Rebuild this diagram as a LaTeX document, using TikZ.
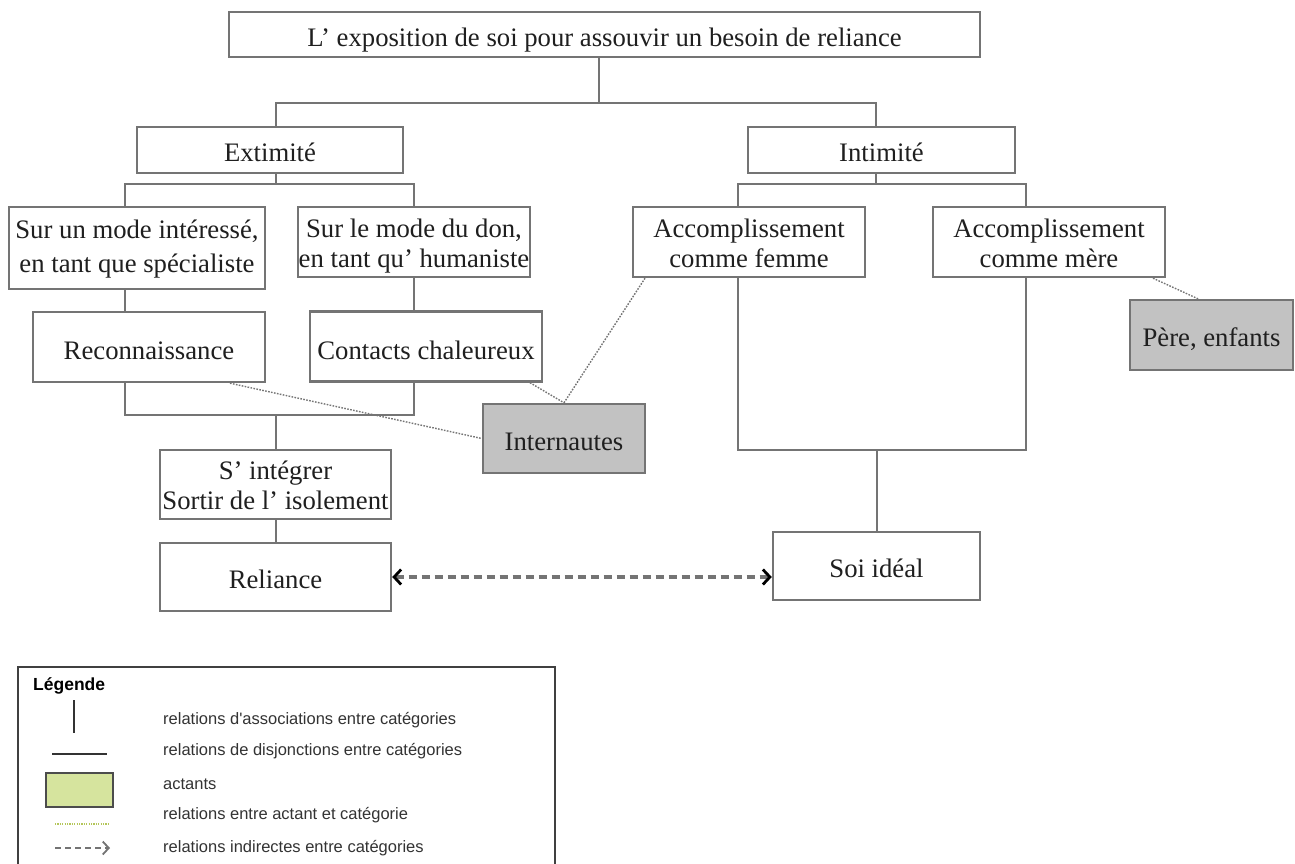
\documentclass[tikz,border=0pt]{standalone}
\usepackage{fontspec}
\setmainfont{Liberation Serif}
\newfontfamily\legfont{Liberation Sans}
\usetikzlibrary{arrows.meta}
\definecolor{lc}{HTML}{747474}
\definecolor{actfill}{HTML}{C2C2C2}
\definecolor{legreen}{HTML}{D6E49E}
\definecolor{legdot}{HTML}{B4C65A}
\begin{document}
\begin{tikzpicture}[x=1pt,y=-1pt,
  cat/.style={draw=lc, line width=2.4pt, fill=white, inner sep=0pt, align=center,
    font=\fontsize{26.7}{30}\selectfont, text=black!88, text height=23pt, text depth=0pt},
  two/.style={text height=52pt, text depth=2pt},
  act/.style={cat, fill=actfill},
  tree/.style={draw=lc, line width=2.6pt},
  link/.style={draw=lc, line width=1.4pt, dash pattern=on 1.6pt off 1.4pt},
  indirect/.style={draw=lc, line width=3.5pt, dash pattern=on 8pt off 5pt,
    {Straight Barb[length=7pt,width=15pt,color=black,line width=2.8pt]}-{Straight Barb[length=7pt,width=15pt,color=black,line width=2.8pt]}},
  legtxt/.style={anchor=west, inner sep=0pt, font=\legfont\fontsize{16.5}{18}\selectfont, text=black!80}
]
\useasboundingbox (0,0) rectangle (1295,863);
\fill[white] (0,0) rectangle (1295,863);

% category nodes
\node[cat, minimum width=751, minimum height=45] (top) at (604.5,34.5) {L’ exposition de soi pour assouvir un besoin de reliance};
\node[cat, minimum width=266, minimum height=46] (ext) at (270,150) {Extimité};
\node[cat, minimum width=267, minimum height=46] (int) at (881.5,150) {Intimité};
\node[cat, font=\fontsize{26.7}{34}\selectfont, text height=50pt, text depth=2pt, minimum width=256, minimum height=82] (mi) at (137,248) {Sur un mode intéressé,\\en tant que spécialiste};
\node[cat, two, minimum width=232, minimum height=70] (md) at (414,242) {Sur le mode du don,\\en tant qu’ humaniste};
\node[cat, minimum width=232, minimum height=70, text height=25pt, text depth=0pt] (rec) at (149,347) {Reconnaissance};
\node[cat, minimum width=232, minimum height=70, text height=25pt, text depth=0pt] (con) at (426,346.5) {Contacts chaleureux};
\node[cat, text height=51pt, text depth=2pt, minimum width=231, minimum height=69] (integ) at (275.5,484.5) {S’ intégrer\\Sortir de l’ isolement};
\node[cat, minimum width=231, minimum height=68] (rel) at (275.5,577) {Reliance};
\node[cat, two, minimum width=232, minimum height=70] (af) at (749,242) {Accomplissement\\comme femme};
\node[cat, two, minimum width=232, minimum height=70] (am) at (1049,242) {Accomplissement\\comme mère};
\node[cat, minimum width=207, minimum height=68] (soi) at (876.5,566) {Soi idéal};
% actants
\node[act, minimum width=162, minimum height=69] (inet) at (564,438.5) {Internautes};
\node[act, minimum width=163, minimum height=70] (pere) at (1211.5,335) {Père, enfants};

% junction coordinates
\coordinate (b1) at (599,103);
\coordinate (b1L) at (276,103);
\coordinate (b1R) at (876,103);
\coordinate (b2C) at (276,184);
\coordinate (b2L) at (125,184);
\coordinate (b2R) at (414,184);
\coordinate (b3C) at (276,415);
\coordinate (b3L) at (125,415);
\coordinate (b3R) at (414,415);
\coordinate (b4C) at (876,184);
\coordinate (b4L) at (738,184);
\coordinate (b4R) at (1026,184);
\coordinate (b5C) at (877,450);
\coordinate (b5L) at (738,450);
\coordinate (b5R) at (1026,450);

% tree connectors
\draw[tree] (top.south -| b1) -- (b1);
\draw[tree] (ext.north -| b1L) -- (b1L) -- (b1R) -- (int.north -| b1R);
\draw[tree] (ext.south -| b2C) -- (b2C);
\draw[tree] (mi.north -| b2L) -- (b2L) -- (b2R) -- (md.north -| b2R);
\draw[tree] (mi.south -| b2L) -- (rec.north -| b2L);
\draw[tree] (md.south -| b2R) -- (con.north -| b2R);
\draw[tree] (rec.south -| b3L) -- (b3L) -- (b3R) -- (con.south -| b3R);
\draw[tree] (b3C) -- (integ.north -| b3C);
\draw[tree] (integ.south -| b3C) -- (rel.north -| b3C);
\draw[tree] (int.south -| b4C) -- (b4C);
\draw[tree] (af.north -| b4L) -- (b4L) -- (b4R) -- (am.north -| b4R);
\draw[tree] (af.south -| b5L) -- (b5L) -- (b5R) -- (am.south -| b5R);
\draw[tree] (b5C) -- (soi.north -| b5C);

% actant links
\draw[link] ([xshift=81]rec.south) -- (inet.west);
\draw[link] ([xshift=104]con.south) -- (inet.north);
\draw[link] ([xshift=-104]af.south) -- (inet.north);
\draw[link] ([xshift=104]am.south) -- ([xshift=-13.5]pere.north);

% indirect relation
\draw[indirect] (rel.east) -- (rel.east -| soi.west);

% legend
\draw[draw=black!75, line width=1.6pt] (18,880) -- (18,667) -- (555,667) -- (555,880);
\node[anchor=west, inner sep=0pt, font=\legfont\bfseries\fontsize{17.5}{19}\selectfont] (legt) at (33,686) {Légende};
\coordinate (l1a) at (74,700);
\coordinate (l1b) at (74,733);
\draw[draw=black!80, line width=1.6pt] (l1a) -- (l1b);
\node[legtxt] (t1) at (163,720) {relations d'associations entre catégories};
\coordinate (l2a) at (52,754);
\coordinate (l2b) at (107,754);
\draw[draw=black!80, line width=1.6pt] (l2a) -- (l2b);
\node[legtxt] (t2) at (163,751) {relations de disjonctions entre catégories};
\node[draw=black!70, line width=1.6pt, fill=legreen, minimum width=67, minimum height=34, inner sep=0pt] (lbox) at (79.5,790) {};
\node[legtxt] (t3) at (163,784) {actants};
\coordinate (l4a) at (55,824);
\coordinate (l4b) at (110,824);
\draw[draw=legdot, line width=2pt, dash pattern=on 1.2pt off 1.2pt] (l4a) -- (l4b);
\node[legtxt] (t4) at (163,815) {relations entre actant et catégorie};
\coordinate (l5a) at (55,848);
\coordinate (l5b) at (110,848);
\draw[draw=black!55, line width=1.8pt, dash pattern=on 6pt off 4pt, -{Straight Barb[length=6pt,width=13pt,color=black!55,line width=1.8pt]}] (l5a) -- (l5b);
\node[legtxt] (t5) at (163,848) {relations indirectes entre catégories};
\end{tikzpicture}
\end{document}
